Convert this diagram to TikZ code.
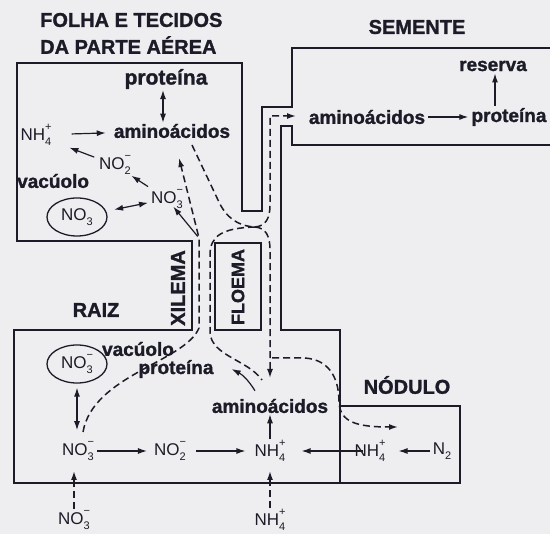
\documentclass[tikz,border=0pt]{standalone}
\usepackage{fontspec}
\setmainfont{Liberation Sans}
\newfontfamily\heavyfont{Liberation Sans}[BoldFeatures={FakeBold=1.3}]
\usetikzlibrary{arrows.meta,shapes.geometric}

\definecolor{ink}{RGB}{28,28,40}
\definecolor{paper}{RGB}{238,238,241}

\newcommand{\ionsym}[3]{#1\rlap{\raisebox{0.58em}{\fontsize{11}{11}\selectfont #3}}\raisebox{-0.3em}{\fontsize{11}{11}\selectfont #2}}

\tikzset{
  wall/.style={ink, line width=2.6pt, line join=miter},
  flow/.style={ink, line width=1.5pt, dash pattern=on 7pt off 4pt},
  rx/.style={ink, line width=1.2pt, -{Latex[length=9pt,width=6pt]}},
  rxx/.style={ink, line width=1.2pt, {Latex[length=9pt,width=6pt]}-{Latex[length=9pt,width=6pt]}},
  tip/.style={-{Latex[length=9pt,width=6pt]}},
  ttl/.style={ink, font=\fontsize{20}{22}\selectfont\heavyfont\bfseries, inner sep=0pt},
  lbl/.style={ink, font=\fontsize{19}{21}\selectfont\heavyfont\bfseries, inner sep=1pt},
  ion/.style={ink, font=\fontsize{17}{19}\selectfont, inner sep=1pt},
  vac/.style={draw, ellipse, line width=1.3pt, minimum width=60pt, minimum height=38pt, inner sep=0pt}
}

\begin{document}
\begin{tikzpicture}[x=1pt,y=-1pt]
  \fill[paper] (0,0) rectangle (550,534);
  \useasboundingbox (0,0) rectangle (550,534);

  % plant outline
  \draw[wall] (340,406) -- (460,406) -- (460,483) -- (14,483) -- (14,330) -- (192,330)
    -- (192,241) -- (17,241) -- (17,63) -- (242,63) -- (242,211) -- (262,211)
    -- (262,107) -- (292,107) -- (292,48) -- (552,48);
  \draw[wall] (552,145) -- (292,145) -- (292,126) -- (281,126) -- (281,330) -- (340,330) -- (340,483);
  \draw[wall] (215,243) rectangle (261,330);

  % titles
  \node[ttl, anchor=west] (tFolha) at (40,20) {FOLHA E TECIDOS};
  \node[ttl, anchor=west] (tAerea) at (40,45) {DA PARTE AÉREA};
  \node[ttl] (tSem) at (417,27) {SEMENTE};
  \node[ttl] (tRaiz) at (96,310) {RAIZ};
  \node[ttl] (tNod) at (407,385) {NÓDULO};
  \node[ttl, rotate=90] (tXil) at (178,288) {XILEMA};
  \node[ttl, rotate=90, font=\fontsize{18}{20}\selectfont\heavyfont\bfseries] (tFlo) at (238,287) {FLOEMA};

  % leaf
  \node[lbl, font=\fontsize{21}{23}\selectfont\heavyfont\bfseries] (protL) at (166,79) {proteína};
  \node[lbl] (aaL) at (172,131) {aminoácidos};
  \node[ion] (nh4L) at (36,135) {\ionsym{NH}{4}{+}};
  \node[ion] (no2L) at (115,165) {\ionsym{NO}{2}{−}};
  \node[ion] (no3L) at (167,199) {\ionsym{NO}{3}{−}};
  \node[lbl, anchor=west] (vacL) at (16,181) {vacúolo};
  \node[ion, vac] (ellL) at (77,217) {\ionsym{NO}{3}{}};

  \draw[rxx] ([xshift=-3pt]protL.south) -- ([xshift=-9pt]aaL.north);
  \draw[rx, shorten <=19pt, shorten >=7pt] (nh4L) -- (aaL);
  \draw[rx, shorten <=4pt, shorten >=18pt] (no2L) -- (nh4L);
  \draw[rx, shorten <=3pt] (no3L) -- (no2L);
  \draw[rxx, shorten <=8pt, shorten >=2pt] (ellL) -- (no3L);

  % seed
  \node[lbl] (aaS) at (367,117) {aminoácidos};
  \node[lbl] (protS) at (509,117) {proteína};
  \node[lbl] (resS) at (493,66) {reserva};
  \draw[rx, shorten <=2pt, shorten >=2pt] (aaS) -- (protS);
  \draw[rx, shorten <=1pt, shorten >=1pt] ([xshift=2pt]resS.south |- protS.north) -- ([xshift=2pt]resS.south);

  % root
  \node[ion, vac] (ellR) at (77,364) {\ionsym{NO}{3}{−}};
  \node[lbl] (vacR) at (138,349) {vacúolo};
  \node[lbl] (protR) at (176,369) {proteína};
  \node[lbl] (aaR) at (270,406) {aminoácidos};
  \node[ion] (no3R) at (78,451) {\ionsym{NO}{3}{−}};
  \node[ion] (no2R) at (170,451) {\ionsym{NO}{2}{−}};
  \node[ion] (nh4R) at (270,451) {\ionsym{NH}{4}{+}};
  \node[ion] (nh4N) at (370,451) {\ionsym{NH}{4}{+}};
  \node[ion] (n2N) at (442,451) {\ionsym{N}{2}{}};
  \node[ion] (no3in) at (74,520) {\ionsym{NO}{3}{−}};
  \node[ion] (nh4in) at (270,520) {\ionsym{NH}{4}{+}};

  \draw[rxx, shorten <=4pt, shorten >=10pt] (ellR.south) -- (ellR.south |- no3R.north);
  \draw[rx, shorten <=2pt, shorten >=6pt] (no3R.east) -- (no2R.west);
  \draw[rx, shorten <=9pt, shorten >=8pt] (no2R.east) -- (nh4R.west);
  \draw[rx] (nh4R.north) -- (aaR.south);
  \draw[rx, shorten <=-10pt, shorten >=15pt] (nh4N.west) -- (nh4R.east);
  \draw[rx, shorten <=2pt, shorten >=12pt] (n2N.west) -- (nh4N.east);
  \draw[rx] ([xshift=-15pt,yshift=7pt]aaR.north) to[bend right=15] ([xshift=17pt]protR.east);

  \coordinate (gateN) at (74,471);
  \coordinate (gateH) at (270,471);
  \draw[flow, tip] (no3in.north) -- (gateN);
  \draw[flow, tip] (nh4in.north) -- (gateH);

  % transport
  \coordinate (xyBot) at (199,328);
  \coordinate (xyTop) at (199,238);
  \coordinate (J) at (255,227);
  \draw[flow, tip] (83,432) .. controls (93,375) and (185,362) .. (xyBot) -- (xyTop) -- (179,158);
  \draw[rx, shorten <=2pt, shorten >=-4pt] (xyTop) -- (no3L);
  \draw[flow] (192,145) -- (218,200) .. controls (226,218) and (238,226) .. (J);
  \draw[flow, tip] (J) .. controls (266,226) and (270,218) .. (270,205) -- (270,116) -- (296,116);
  \draw[flow, tip] (J) .. controls (266,228) and (270,236) .. (270,250) -- (270,378);
  \draw[flow] (J) .. controls (222,228) and (210,236) .. (210,255) -- (210,333)
    .. controls (212,356) and (248,360) .. (262,380);
  \draw[flow, tip] (272,358) -- (305,358) .. controls (332,360) and (339,382) .. (339,402)
    .. controls (340,422) and (356,427) .. (398,427);
\end{tikzpicture}
\end{document}
